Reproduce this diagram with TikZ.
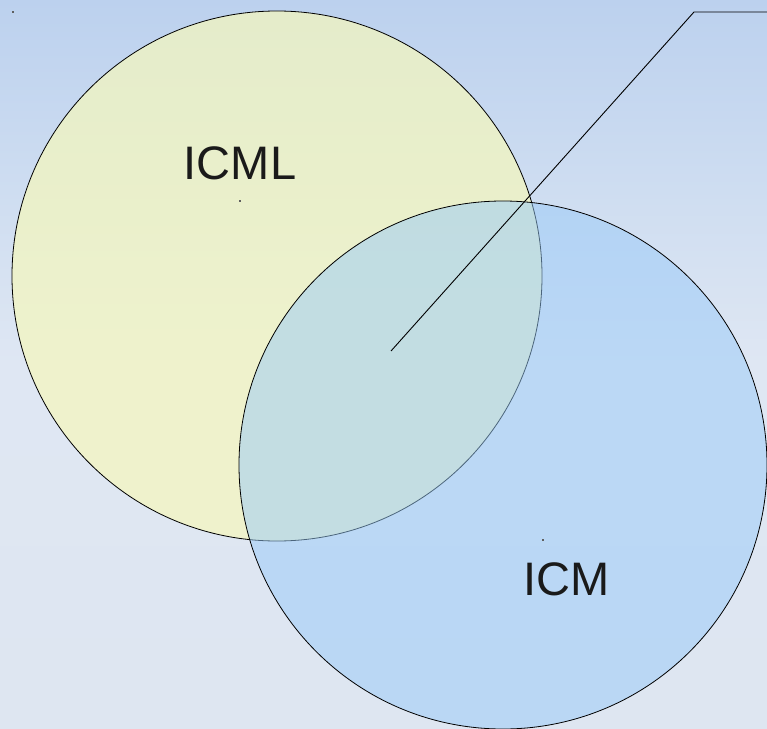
\documentclass[tikz,border=0pt]{standalone}
\usepackage{fontspec}
\setmainfont{Liberation Sans}
\definecolor{bgtop}{RGB}{188,209,238}
\definecolor{bgupper}{RGB}{206,221,241}
\definecolor{bgmid}{RGB}{223,231,243}
\definecolor{bgbot}{RGB}{222,230,241}
\definecolor{setyellow}{RGB}{246,248,188}
\definecolor{setblue}{RGB}{152,202,248}
\definecolor{inkdark}{RGB}{26,26,26}
% backdrop: fitted to the 25bp..75bp band, light at the bottom, blue at the top
\pgfdeclareverticalshading{backdrop}{100bp}{%
  color(0bp)=(bgbot); color(25bp)=(bgbot); color(50bp)=(bgmid);
  color(62bp)=(bgupper); color(75bp)=(bgtop); color(100bp)=(bgtop)}
\begin{document}
\begin{tikzpicture}[x=1bp,y=-1bp,
  setcircle/.style={draw=black,line width=0.8bp},
  setlabel/.style={inner sep=0pt,text=inkdark,font=\fontsize{47bp}{47bp}\selectfont},
  centremark/.style={fill=inkdark!70,minimum size=1.6bp,inner sep=0pt,draw=none},
  callout/.style={draw=black,line width=0.9bp}]
  % backdrop gradient (drawn with the y axis pointing up)
  \begin{scope}[yscale=-1]
    \path[shading=backdrop] (0,-729) rectangle (767,0);
  \end{scope}
  \useasboundingbox (0,0) rectangle (767,729);
  % the two sets
  \path[setcircle,fill=setyellow,fill opacity=0.7] (277,276) circle[radius=265];
  \path[setcircle,fill=setblue,fill opacity=0.5] (503,465) circle[radius=264];
  % centre marks
  \node[centremark] (m0) at (13,12) {};
  \node[centremark] (m1) at (240,201) {};
  \node[centremark] (m2) at (543,540) {};
  % labels
  \node[setlabel] (icml) at (240,163) {ICML};
  \node[setlabel] (icm) at (567,579) {ICM};
  % callout line from the intersection
  \coordinate (tip) at (391,351);
  \coordinate (bend) at (694,12);
  \coordinate (tail) at (767,12);
  \draw[callout] (tip) -- (bend) -- (tail);
\end{tikzpicture}
\end{document}
